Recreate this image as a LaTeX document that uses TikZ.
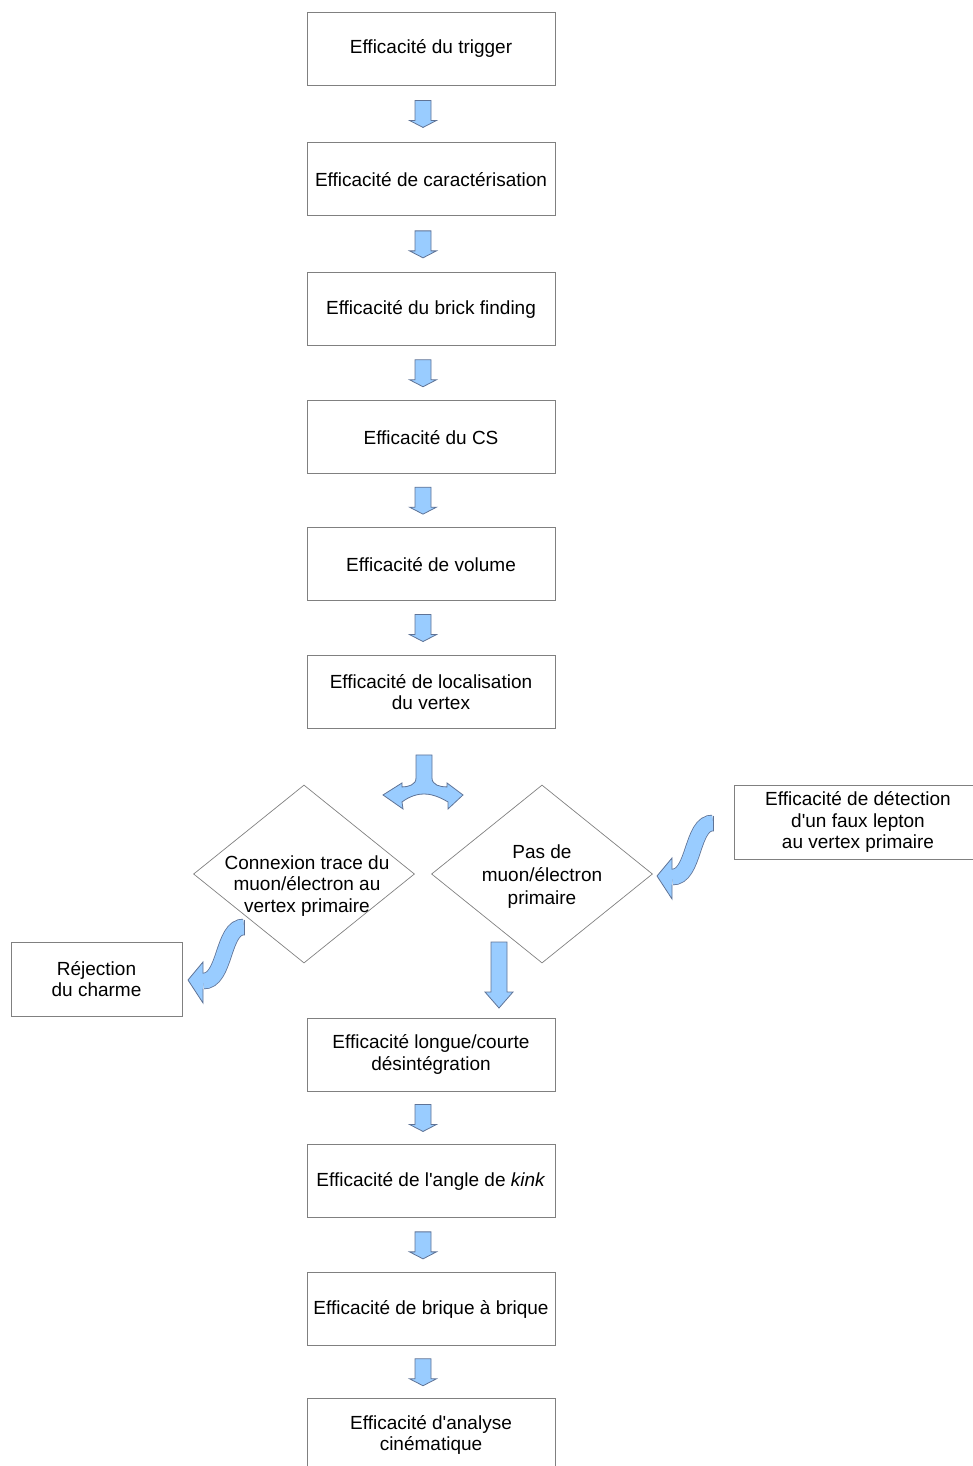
\documentclass[tikz,border=0pt]{standalone}
\usepackage{fontspec}
\setmainfont{Liberation Sans}
\usetikzlibrary{positioning,calc,shapes.geometric}
\definecolor{bleuclair}{RGB}{153,204,255}
\definecolor{bleucontour}{RGB}{95,115,150}
\definecolor{trait}{RGB}{128,128,128}

\begin{document}
\begin{tikzpicture}[x=1pt,y=-1pt,
    every node/.style={font=\fontsize{19}{21.5}\selectfont},
    effbox/.style={draw=trait,line width=0.9pt,minimum width=248pt,minimum height=73pt,
                   align=center,inner sep=2pt},
    choix/.style={diamond,draw=trait,line width=0.7pt,minimum width=221pt,
                  minimum height=178pt,inner sep=0pt},
    fleche/.style={fill=bleuclair,draw=bleucontour,line width=0.8pt,line join=miter},
    petitefleche/.pic={
      \filldraw[fleche] (-8,-13.5) -- (8,-13.5) -- (8,6.5) -- (13.5,6.5) -- (0,13.5)
        -- (-13.5,6.5) -- (-8,6.5) -- cycle;},
    grandefleche/.pic={
      \filldraw[fleche] (-8,0) -- (8,0) -- (8,50) -- (14,50) -- (0,66)
        -- (-14,50) -- (-8,50) -- cycle;},
    fourche/.pic={
      \filldraw[fleche] (-8,0) -- (8,0) -- (8,23) .. controls (8,30) and (16,32) .. (23,32)
        -- (23,28) -- (39,40) -- (24,54) -- (24,47)
        .. controls (14,41) and (6,39) .. (0,39) .. controls (-6,39) and (-14,41) .. (-22,47)
        -- (-21,54) -- (-41,40) -- (-22,28) -- (-22,32)
        .. controls (-16,32) and (-8,30) .. (-8,23) -- cycle;},
    courbe/.pic={
      \draw[bleucontour,line width=16.6pt] (1,6) .. controls (-21,5) and (-17,61) .. (-40,60);
      \draw[bleuclair,line width=15pt] (1,6) .. controls (-21,5) and (-17,61) .. (-40,60);
      \draw[bleucontour,line width=0.8pt] (1,-1.5) -- (1,13.5);
      \fill[bleuclair] (-40,41) -- (-55,59) -- (-40,82) -- cycle;
      \draw[bleucontour,line width=0.8pt,line join=miter]
        (-40,52.5) -- (-40,41) -- (-55,59) -- (-40,82) -- (-40,67.5);}]

  \useasboundingbox (0,0) rectangle (973,1466);
  \clip (0,0) rectangle (973,1466);

  % chaine du haut
  \node[effbox] (trigger) at (431,48.5) {Efficacité du trigger};
  \node[effbox,below=57pt of trigger] (caract) {Efficacité de caractérisation};
  \node[effbox,below=56pt of caract] (brick) {Efficacité du brick finding};
  \node[effbox,below=54pt of brick] (cs) {Efficacité du CS};
  \node[effbox,below=53pt of cs] (volume) {Efficacité de volume};
  \node[effbox,below=54pt of volume] (localisation) {Efficacité de localisation\\du vertex};

  % choix
  \node[choix] (connexion) at (304,874) {};
  \node[choix] (pasde) at (542,874) {};
  \node[align=center] (connexiontxt) at ($(connexion.center)+(3,12)$)
    {Connexion trace du\\muon/électron au\\vertex primaire};
  \node[align=center,font=\fontsize{19}{23}\selectfont] (pasdetxt) at ($(pasde.center)+(0,3)$)
    {Pas de\\muon/électron\\primaire};
  \node[effbox,minimum width=171pt,minimum height=74pt] (rejection) at (96.5,979)
    {Réjection\\du charme};
  \node[effbox,minimum height=74pt] (fauxlepton) at (858,822)
    {Efficacité de détection\\d\textquotesingle un faux lepton\\au vertex primaire};

  % chaine du bas
  \node[effbox] (longue) at (431,1054.5) {Efficacité longue/courte\\désintégration};
  \node[effbox,below=53pt of longue] (kink) {Efficacité de l\textquotesingle angle de \textit{kink}};
  \node[effbox,below=54pt of kink] (brique) {Efficacité de brique à brique};
  \node[effbox,below=52pt of brique] (cinematique) {Efficacité d\textquotesingle analyse\\cinématique};

  % fleches
  \foreach \a/\b in {trigger/caract,caract/brick,brick/cs,cs/volume,volume/localisation,
                     longue/kink,kink/brique,brique/cinematique}
    \pic at ($(\a.south)!0.5!(\b.north)+(-8,0)$) {petitefleche};
  \pic at ($(localisation.south)+(-7,26)$) {fourche};
  \pic at (499,942) {grandefleche};
  \pic at (243,921) {courbe};
  \pic at (712,817) {courbe};
\end{tikzpicture}
\end{document}
